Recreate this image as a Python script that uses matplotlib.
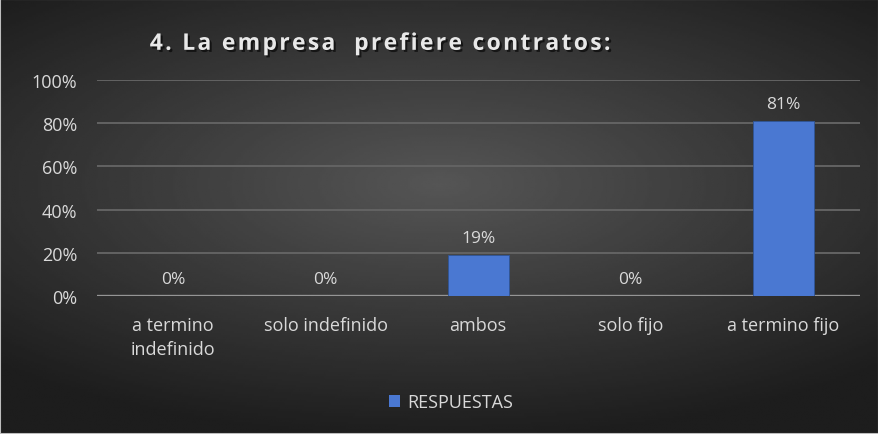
import numpy as np
import matplotlib.pyplot as plt
from matplotlib.patches import Patch, Rectangle
import matplotlib.patheffects as pe

categories = ['a termino\nindefinido', 'solo indefinido', 'ambos', 'solo fijo', 'a termino fijo']
respuestas = [0, 0, 19, 0, 81]
y_ticks = [0, 20, 40, 60, 80, 100]
titulo = '4. La empresa  prefiere contratos:'

plt.rcParams['font.family'] = ['Open Sans', 'DejaVu Sans']
txt = '#d9d9d9'

fig = plt.figure(figsize=(8.79, 4.35), dpi=100)

# dark radial background over the whole figure
bg = fig.add_axes([0, 0, 1, 1])
yy, xx = np.mgrid[-1:1:200j, -1:1:400j]
r = np.sqrt((xx * 0.9) ** 2 + ((yy + 0.15) * 1.1) ** 2)
bg.imshow(0.335 - 0.17 * np.clip(r, 0, 1.3), cmap='gray', vmin=0, vmax=1,
          aspect='auto', extent=[0, 1, 0, 1])
bg.add_patch(Rectangle((0, 0), 1, 1, fill=False, edgecolor='#bdbdbd', linewidth=1.5,
                       transform=bg.transAxes, clip_on=False))
bg.set_xlim(0, 1)
bg.set_ylim(0, 1)
bg.set_axis_off()

ax = fig.add_axes([0.110, 0.317, 0.868, 0.497])
ax.patch.set_alpha(0)
x = np.arange(len(categories))
ax.bar(x, respuestas, width=0.4, color='#4a78d2', edgecolor='#2f5597',
       linewidth=0.6, zorder=3, label='RESPUESTAS')

for xi, v in zip(x, respuestas):
    ax.text(xi, v + 4, f'{v}%', ha='center', va='bottom', color=txt, fontsize=12.5)

ax.set_ylim(0, 100)
ax.set_xlim(-0.5, len(categories) - 0.5)
ax.set_yticks(y_ticks)
ax.set_yticklabels([f'{t}%' for t in y_ticks], color=txt, fontsize=13)
ax.set_xticks(x)
ax.set_xticklabels(categories, color=txt, fontsize=13, linespacing=1.45)
ax.tick_params(length=0)
ax.tick_params(axis='x', pad=14)
ax.tick_params(axis='y', pad=14)
for s in ax.spines.values():
    s.set_visible(False)
ax.grid(axis='y', color='#636363', linewidth=1.4, zorder=0)
ax.axhline(0, color='#959595', linewidth=2.4, zorder=2)

# spaced-out title lettering
spaced = '\u200a'.join(titulo)
fig.text(0.431, 0.897, spaced, ha='center', va='center',
         color='#e8e8e8', fontsize=16.5, fontweight='bold',
         path_effects=[pe.withSimplePatchShadow(offset=(1.5, -1.5), shadow_rgbFace='black', alpha=0.6)])

fig.legend(handles=[Patch(facecolor='#4a78d2')], labels=['RESPUESTAS'],
           loc='center', bbox_to_anchor=(0.513, 0.073), frameon=False,
           labelcolor=txt, fontsize=13, handlelength=0.6, handleheight=0.6,
           handletextpad=0.4)

fig.savefig('out.png', dpi=100)
